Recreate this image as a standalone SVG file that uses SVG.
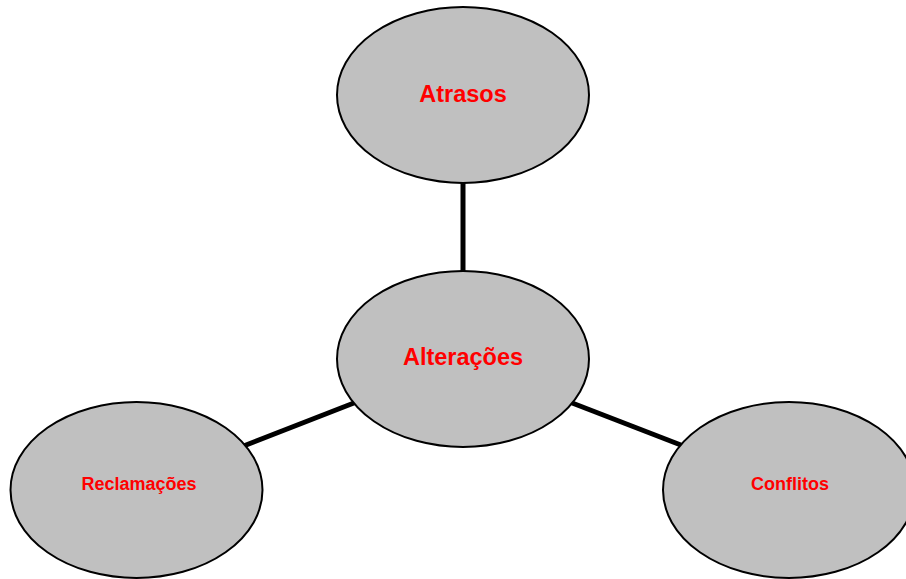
<svg xmlns="http://www.w3.org/2000/svg" width="906" height="579" viewBox="0 0 906 579">
<style>
.node{fill:#c0c0c0;stroke:#000;stroke-width:2}
.lbl{font-family:"Liberation Sans",Arial,sans-serif;font-weight:bold;fill:#ff0000;text-anchor:middle}
.big{font-size:23.5px}
.small{font-size:18px}
.conn{stroke:#000;stroke-width:5;fill:none}
</style>
<rect width="906" height="579" fill="#fff"/>
<g id="connectors">
<line class="conn" x1="463" y1="180" x2="463" y2="275"/>
<line class="conn" x1="241" y1="447" x2="359" y2="401"/>
<line class="conn" x1="567" y1="401" x2="686" y2="447"/>
</g>
<g id="atrasos">
<ellipse class="node" cx="463" cy="95" rx="126" ry="88"/>
<text class="lbl big" x="463" y="101.5">Atrasos</text>
</g>
<g id="alteracoes">
<ellipse class="node" cx="463" cy="359" rx="126" ry="88"/>
<text class="lbl big" x="463" y="364.5">Alterações</text>
</g>
<g id="reclamacoes">
<ellipse class="node" cx="136.5" cy="490" rx="126" ry="88"/>
<text class="lbl small" x="139" y="490">Reclamações</text>
</g>
<g id="conflitos">
<ellipse class="node" cx="789" cy="490" rx="126" ry="88"/>
<text class="lbl small" x="790" y="490">Conflitos</text>
</g>
</svg>
